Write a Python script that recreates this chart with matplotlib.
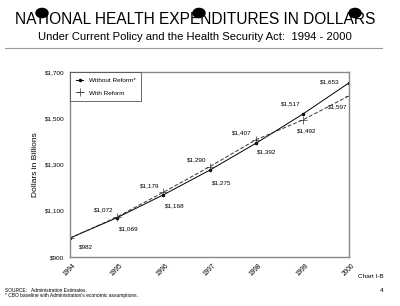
import matplotlib.pyplot as plt
from matplotlib.patches import Circle

plt.rcParams['font.family'] = ['Liberation Sans', 'DejaVu Sans']

years = [1994, 1995, 1996, 1997, 1998, 1999, 2000]
without_reform = [982, 1069, 1168, 1275, 1392, 1517, 1653]
with_reform = [982, 1072, 1179, 1290, 1407, 1492, 1597]

# label offsets (pixels) for each point
without_offsets = [(16, -9), (12, -11), (12, -11), (12, -12), (11, -9), (-12, 11), (-19, 1)]
with_offsets = [None, (-13, 7), (-13, 7), (-13, 7), (-14, 7), (4, -11), (-11, -11)]

fig = plt.figure(figsize=(4, 3.06), dpi=100)
ax = fig.add_axes([70 / 400, 1 - 257 / 306, 279 / 400, 185 / 306])

ax.plot(years, without_reform, color='black', lw=0.7, marker='.', ms=3,
        label='Without Reform*')
ax.plot(years, with_reform, color='#333333', lw=0.7, ls=(0, (4, 2)),
        marker='+', ms=6, mew=0.5, label='With Reform')

for x, y, off in zip(years, without_reform, without_offsets):
    ax.annotate(f'${y:,}', (x, y), xytext=off, textcoords='offset pixels',
                ha='center', va='center', fontsize=4.6)
for x, y, off in zip(years, with_reform, with_offsets):
    if off is None:
        continue
    ax.annotate(f'${y:,}', (x, y), xytext=off, textcoords='offset pixels',
                ha='center', va='center', fontsize=4.6)

ax.set_xlim(1994, 2000)
ax.set_ylim(900, 1700)
ax.set_yticks([900, 1100, 1300, 1500, 1700])
ax.set_yticklabels(['$900', '$1,100', '$1,300', '$1,500', '$1,700'], fontsize=4.6)
ax.set_xticks(years)
ax.set_xticklabels([str(y) for y in years], fontsize=4.8, rotation=45,
                   ha='center', va='top')
ax.tick_params(length=0, pad=4)
ax.set_ylabel('Dollars in Billions', fontsize=6, labelpad=4)
for s in ax.spines.values():
    s.set_color('#888888')
    s.set_linewidth(1)

leg = ax.legend(loc='upper left', fontsize=4.6, frameon=True, fancybox=False,
                borderaxespad=0, handlelength=1.2, borderpad=0.9, labelspacing=1.1)
leg.get_frame().set_edgecolor('#444444')
leg.get_frame().set_linewidth(0.7)

fig.text(0.4875, 1 - 20 / 306, 'NATIONAL HEALTH EXPENDITURES IN DOLLARS',
         ha='center', va='center', fontsize=11.2)
fig.text(0.4875, 1 - 37 / 306,
         'Under Current Policy and the Health Security Act:  1994 - 2000',
         ha='center', va='center', fontsize=8.1)
fig.add_artist(plt.Line2D([5 / 400, 382 / 400], [1 - 48 / 306, 1 - 48 / 306],
                          color='#999999', lw=0.8))

for hx in (42, 199, 355):
    fig.add_artist(Circle((hx / 400, 1 - 13 / 306), 6 / 400, color='black',
                          transform=fig.transFigure))

fig.text(5 / 400, 1 - 290 / 306, 'SOURCE:   Administration Estimates.',
         fontsize=3.5, va='center')
fig.text(5 / 400, 1 - 296 / 306,
         "* CBO baseline with Administration's economic assumptions.",
         fontsize=3.5, va='center')
fig.text(358 / 400, 1 - 277 / 306, 'Chart I-B', fontsize=4.6, va='center')
fig.text(380 / 400, 1 - 290 / 306, '4', fontsize=4.6, va='center')

fig.savefig('out.png', dpi=100)
